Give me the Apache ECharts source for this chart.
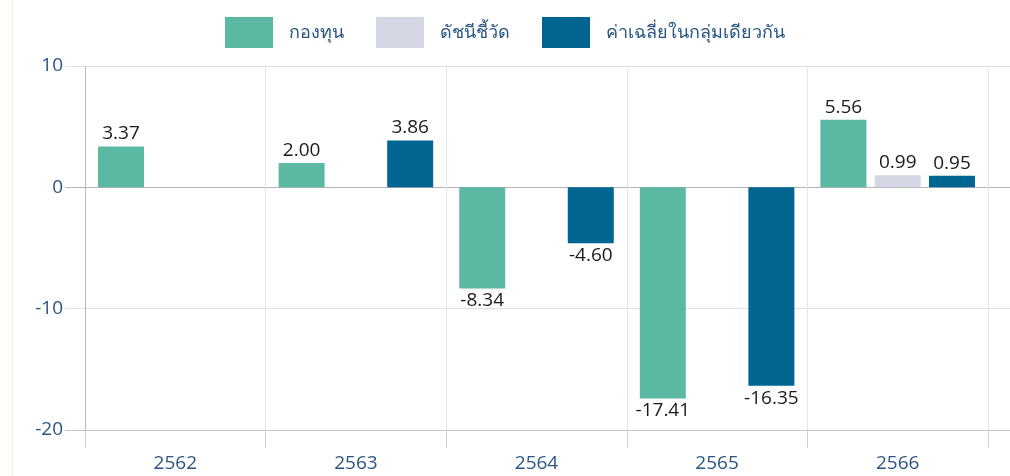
<!DOCTYPE html>
<html>
<head>
<meta charset="utf-8">
<script src="https://cdn.jsdelivr.net/npm/echarts@6/dist/echarts.min.js"></script>
<style>
  html, body { margin: 0; padding: 0; background: #fff; }
  #chart { width: 1010px; height: 476px; }
</style>
</head>
<body>
<div id="chart"></div>
<script>
var years = ['2562', '2563', '2564', '2565', '2566'];
var fund = [3.37, 2.00, -8.34, -17.41, 5.56];
var benchmark = [null, null, null, null, 0.99];
var peerAvg = [null, 3.86, -4.60, -16.35, 0.95];
var seriesNames = ['กองทุน', 'ดัชนีชี้วัด', 'ค่าเฉลี่ยในกลุ่มเดียวกัน'];
var colors = ['#5bb8a2', '#d4d6e4', '#006591'];

var font = '"Open Sans", "Noto Sans", Tahoma, sans-serif';
var axisColor = '#2a5583';

function toData(arr) {
  return arr.map(function (v) {
    if (v === null) return '-';
    return {
      value: v,
      label: { position: v < 0 ? 'bottom' : 'top' }
    };
  });
}

var chart = echarts.init(document.getElementById('chart'));

var series = [fund, benchmark, peerAvg].map(function (arr, i) {
  return {
    name: seriesNames[i],
    type: 'bar',
    xAxisIndex: 0,
    yAxisIndex: 0,
    barWidth: 46,
    barGap: '18%',
    itemStyle: { color: colors[i] },
    label: {
      show: true,
      distance: 3,
      color: '#1a1a1a',
      fontSize: 19,
      fontFamily: font,
      formatter: function (p) { return p.value.toFixed(2); }
    },
    data: toData(arr)
  };
});

chart.setOption({
  animation: false,
  legend: {
    top: 12,
    left: 'center',
    itemWidth: 48,
    itemHeight: 31,
    itemGap: 32,
    icon: 'rect',
    textStyle: {
      color: axisColor,
      fontSize: 18,
      fontFamily: font,
      padding: [0, 0, 0, 11]
    },
    data: seriesNames
  },
  grid: [
    { left: 85, right: 22, top: 66, bottom: 46, outerBoundsMode: 'none' },
    // horizontal lines only: start at the tick stubs, run to the right edge
    { left: 65, right: 0, top: 66, bottom: 46, outerBoundsMode: 'none' }
  ],
  xAxis: [
    {
      type: 'category',
      gridIndex: 0,
      data: years,
      axisLine: { show: true, onZero: false, lineStyle: { color: '#c4c4c4' } },
      axisTick: { show: true, inside: false, length: 18, lineStyle: { color: '#d0d0d0' } },
      splitLine: { show: true, lineStyle: { color: '#e6e6e6' } },
      axisLabel: { color: axisColor, fontSize: 19, fontFamily: font, margin: 24 }
    },
    { type: 'value', gridIndex: 1, show: false, min: 0, max: 1 }
  ],
  yAxis: [
    {
      type: 'value',
      gridIndex: 0,
      min: -20,
      max: 10,
      interval: 10,
      axisLine: { show: true, lineStyle: { color: '#b8b8b8' } },
      axisTick: { show: false },
      splitLine: { show: false },
      axisLabel: { color: axisColor, fontSize: 19, fontFamily: font, margin: 22 }
    },
    {
      type: 'value',
      gridIndex: 1,
      min: -20,
      max: 10,
      interval: 10,
      axisLine: { show: false },
      axisTick: { show: false },
      axisLabel: { show: false },
      splitLine: {
        show: true,
        lineStyle: { color: ['#c4c4c4', '#e0e0e0', '#b4b4b4', '#e0e0e0'] }
      }
    }
  ],
  graphic: [
    {
      type: 'line',
      shape: { x1: 12.5, y1: 0, x2: 12.5, y2: 476 },
      style: { stroke: '#e6f2e0', lineWidth: 1 }
    }
  ],
  series: series
});
</script>
</body>
</html>
